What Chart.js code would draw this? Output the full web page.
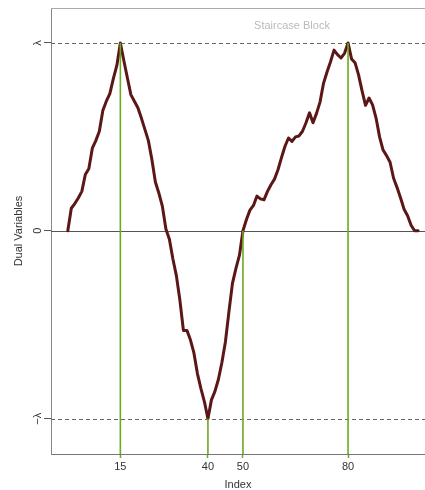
<!DOCTYPE html>
<html>
<head>
<meta charset="utf-8">
<script src="https://cdn.jsdelivr.net/npm/chart.js@4/dist/chart.umd.min.js"></script>
<style>
  html, body { margin: 0; padding: 0; background: #ffffff; }
  #wrap { width: 425px; height: 490px; }
</style>
</head>
<body>
<div id="wrap"><canvas id="dual" width="425" height="490"></canvas></div>
<script>
// Dual variables (in units of lambda) at index 0..100
const dualValues = [
  0.00, 0.12, 0.145, 0.175, 0.21, 0.30, 0.33, 0.44, 0.48, 0.53,
  0.64, 0.69, 0.73, 0.81, 0.88, 1.00, 0.905, 0.815, 0.725, 0.69,
  0.655, 0.60, 0.54, 0.48, 0.38, 0.26, 0.20, 0.13, 0.01, -0.045,
  -0.15, -0.24, -0.37, -0.53, -0.53, -0.58, -0.65, -0.76, -0.84, -0.91,
  -1.00, -0.90, -0.855, -0.79, -0.70, -0.59, -0.43, -0.28, -0.20, -0.13,
  0.00, 0.06, 0.11, 0.135, 0.185, 0.17, 0.165, 0.21, 0.245, 0.275,
  0.325, 0.39, 0.45, 0.494, 0.476, 0.50, 0.505, 0.53, 0.575, 0.628,
  0.575, 0.625, 0.685, 0.785, 0.845, 0.90, 0.962, 0.938, 0.92, 0.945,
  1.00, 0.915, 0.895, 0.83, 0.745, 0.668, 0.707, 0.67, 0.60, 0.50,
  0.43, 0.40, 0.365, 0.28, 0.23, 0.175, 0.115, 0.08, 0.03, 0.00,
  0.00
];

// Knots where the dual path hits the boundary / changes
const knotIndices = [15, 40, 50, 80];

// Y axis ticks (multiples of lambda)
const yTickValues = [-1, 0, 1];
const yTickLabels = ['\u2212\u03bb', '0', '\u03bb'];

// X axis ticks
const xTickValues = [15, 40, 50, 80];
const xTickLabels = ['15', '40', '50', '80'];

const plotTitle = 'Staircase Block';
const xTitle = 'Index';
const yTitle = 'Dual Variables';

const X_MIN = -4.8, X_MAX = 101.97;
const Y_MIN = -1.188, Y_MAX = 1.186;

const FONT = '"Liberation Sans", Arial, Helvetica, sans-serif';
const LINE_COLOR = '#5b1716';
const KNOT_COLOR = '#6aab22';

const dualPoints = dualValues.map((v, i) => ({ x: i, y: v }));

// One vertical segment per knot, from its dual value down to the bottom of the plot
const knotDatasets = knotIndices.map(k => ({
  data: [{ x: k, y: dualValues[k] }, { x: k, y: Y_MIN }],
  borderColor: KNOT_COLOR,
  borderWidth: 1.6,
  pointRadius: 0,
  tension: 0,
  order: 1
}));

// Horizontal reference lines at -lambda, 0, lambda and the top frame edge
const refLines = {
  id: 'refLines',
  beforeDatasetsDraw(chart) {
    const { ctx, chartArea: a, scales: { y } } = chart;
    ctx.save();
    ctx.lineWidth = 1;
    // top frame edge
    ctx.strokeStyle = '#aaaaaa';
    ctx.beginPath();
    ctx.moveTo(a.left, a.top + 0.5);
    ctx.lineTo(a.right, a.top + 0.5);
    ctx.stroke();
    yTickValues.forEach(v => {
      const py = Math.round(y.getPixelForValue(v)) + 0.5;
      ctx.strokeStyle = v === 0 ? '#555555' : '#666666';
      ctx.setLineDash(v === 0 ? [] : [4, 3]);
      ctx.beginPath();
      ctx.moveTo(a.left, py);
      ctx.lineTo(a.right, py);
      ctx.stroke();
    });
    ctx.restore();
  }
};

// Block name written inside the plotting region
const blockLabel = {
  id: 'blockLabel',
  afterDraw(chart) {
    const { ctx, chartArea: a, scales: { x } } = chart;
    ctx.save();
    ctx.font = '11px ' + FONT;
    ctx.fillStyle = '#bbbbbb';
    ctx.textAlign = 'center';
    ctx.textBaseline = 'middle';
    ctx.fillText(plotTitle, x.getPixelForValue(64), a.top + 18);
    ctx.restore();
  }
};

new Chart(document.getElementById('dual'), {
  type: 'line',
  data: {
    datasets: [
      {
        data: dualPoints,
        borderColor: LINE_COLOR,
        borderWidth: 3,
        pointRadius: 0,
        tension: 0,
        borderJoinStyle: 'round',
        borderCapStyle: 'round',
        order: 2
      },
      ...knotDatasets
    ]
  },
  options: {
    responsive: false,
    animation: false,
    events: [],
    layout: { padding: { top: 8, left: 0, right: 0, bottom: 0 } },
    plugins: { legend: { display: false }, tooltip: { enabled: false } },
    scales: {
      x: {
        type: 'linear',
        min: X_MIN,
        max: X_MAX,
        afterFit(s) { s.height = 36; },
        afterBuildTicks(s) { s.ticks = xTickValues.map(v => ({ value: v })); },
        ticks: {
          callback: (v) => xTickLabels[xTickValues.indexOf(v)],
          font: { family: FONT, size: 11 },
          color: '#333333',
          padding: 2,
          maxRotation: 0,
          autoSkip: false
        },
        grid: {
          drawOnChartArea: false,
          drawTicks: true,
          tickLength: 4,
          tickColor: KNOT_COLOR,
          tickWidth: 1.5
        },
        border: { display: true, color: '#777777', width: 1 },
        title: {
          display: true,
          text: xTitle,
          font: { family: FONT, size: 11, lineHeight: 1 },
          color: '#333333',
          padding: { top: 0, bottom: 0 }
        }
      },
      y: {
        type: 'linear',
        min: Y_MIN,
        max: Y_MAX,
        afterFit(s) { s.width = 51; },
        afterBuildTicks(s) { s.ticks = yTickValues.map(v => ({ value: v })); },
        ticks: {
          callback: (v) => yTickLabels[yTickValues.indexOf(v)],
          font: { family: FONT, size: 11 },
          color: '#333333',
          padding: 0,
          minRotation: 90,
          maxRotation: 90,
          crossAlign: 'center',
          autoSkip: false
        },
        grid: {
          drawOnChartArea: false,
          drawTicks: true,
          tickLength: 7,
          tickColor: '#555555',
          tickWidth: 1
        },
        border: { display: true, color: '#888888', width: 1 },
        title: {
          display: true,
          text: yTitle,
          font: { family: FONT, size: 11 },
          color: '#333333',
          padding: { top: 12, bottom: 0 }
        }
      }
    }
  },
  plugins: [refLines, blockLabel]
});
</script>
</body>
</html>
